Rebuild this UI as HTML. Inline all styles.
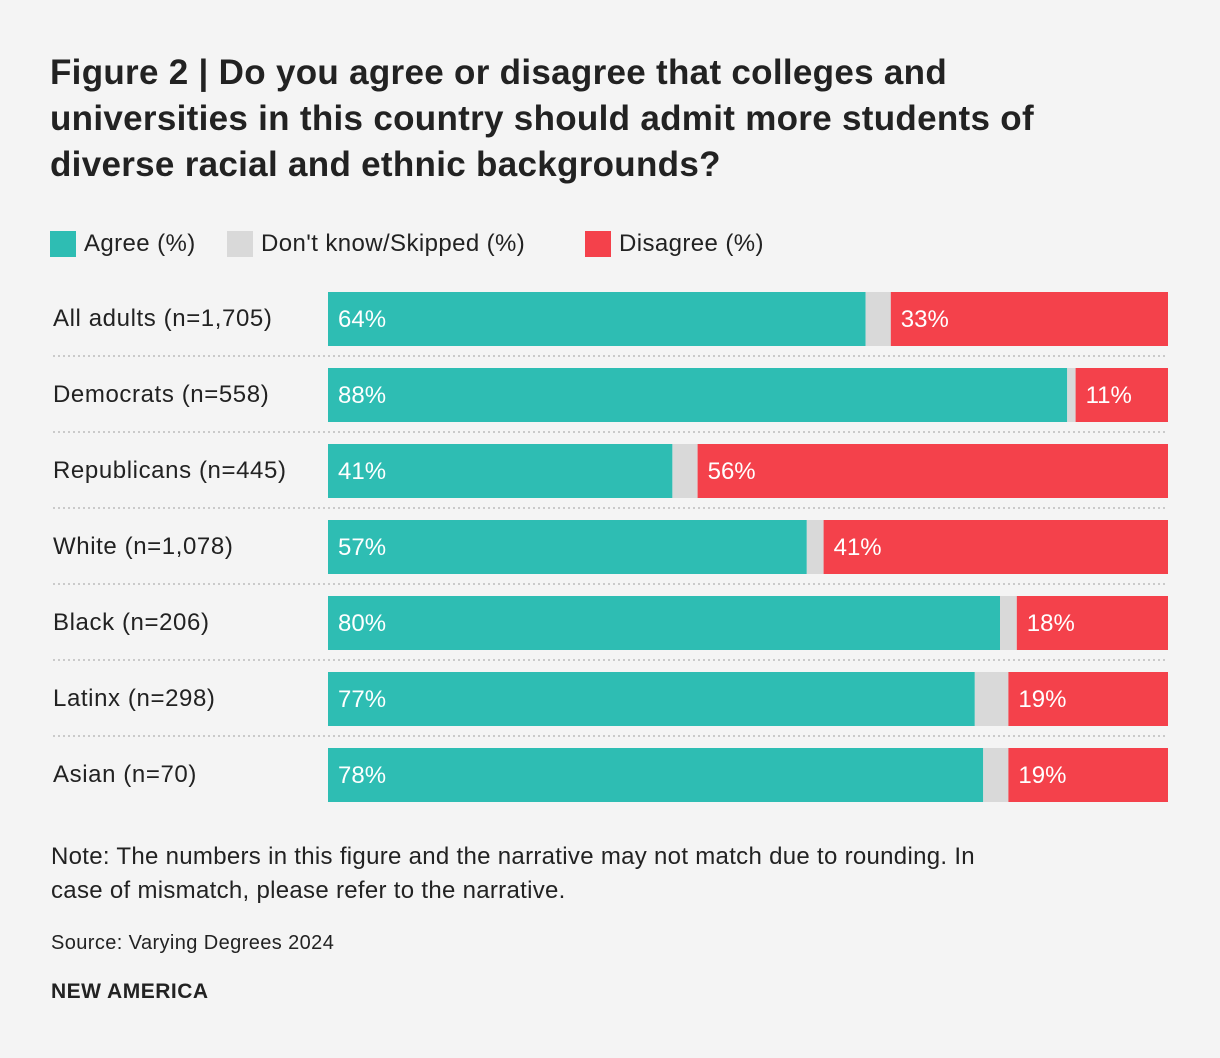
<!DOCTYPE html>
<html><head><meta charset="utf-8"><style>
body{margin:0;background:#f4f4f4;font-family:"Liberation Sans",sans-serif;color:#222;}
#wrap{position:relative;width:1220px;height:1058px;overflow:hidden;}
h1{position:absolute;left:50px;top:50px;margin:0;font-size:35px;line-height:46px;font-weight:bold;width:1150px;color:#222;white-space:nowrap;letter-spacing:0.3px;}
.leg{position:absolute;top:230px;font-size:24px;display:flex;align-items:center;letter-spacing:0.4px;}
.sw{width:26px;height:26px;margin-right:8px;display:inline-block;}
.note{position:absolute;left:51px;top:840px;font-size:24px;line-height:34px;width:1150px;white-space:nowrap;letter-spacing:0.3px;}
.src{position:absolute;left:51px;top:932px;font-size:20px;letter-spacing:0.4px;}
.brand{position:absolute;left:51px;top:980px;font-size:21px;font-weight:bold;letter-spacing:0.5px;}
</style></head><body>
<div id="wrap">
<h1>Figure 2 | Do you agree or disagree that colleges and<br>universities in this country should admit more students of<br>diverse racial and ethnic backgrounds?</h1>
<div class="leg" style="left:50px"><span class="sw" style="background:#2ebdb3"></span>Agree (%)</div>
<div class="leg" style="left:227px"><span class="sw" style="background:#d9d9d9"></span>Don't know/Skipped (%)</div>
<div class="leg" style="left:585px"><span class="sw" style="background:#f4414b"></span>Disagree (%)</div>
<svg id="chart" width="1220" height="1058" style="position:absolute;left:0;top:0"></svg>
<div class="note">Note: The numbers in this figure and the narrative may not match due to rounding. In<br>case of mismatch, please refer to the narrative.</div>
<div class="src">Source: Varying Degrees 2024</div>
<div class="brand">NEW AMERICA</div>
</div>
<script>
const categories=["All adults (n=1,705)","Democrats (n=558)","Republicans (n=445)","White (n=1,078)","Black (n=206)","Latinx (n=298)","Asian (n=70)"];
const agree=[64,88,41,57,80,77,78];
const dontKnow=[3,1,3,2,2,4,3];
const disagree=[33,11,56,41,18,19,19];
const NS="http://www.w3.org/2000/svg";
const svg=document.getElementById('chart');
const x0=328,plotW=840,rowTop=292,rowStep=76,barH=54;
const xs=v=>v/100*plotW;
const yr=i=>rowTop+i*rowStep;
function mk(t,a){const e=document.createElementNS(NS,t);for(const k in a)e.setAttribute(k,a[k]);svg.appendChild(e);return e;}
categories.forEach((c,i)=>{
  const y=yr(i);
  const tot=agree[i]+dontKnow[i]+disagree[i];
  const sc=v=>xs(v*100/tot);
  const lab=mk('text',{x:53,y:y+barH/2+7,'font-size':24,fill:'#222','font-family':'Liberation Sans, sans-serif','letter-spacing':0.6});
  lab.textContent=c;
  
  
  if(i>0){const ln=mk('line',{x1:53,x2:1168,y1:y-12,y2:y-12,stroke:'#bbb','stroke-width':1.5,'stroke-dasharray':'2,3'});
    
    }
  let cx=x0;
  const segs=[[agree[i],'#2ebdb3','bar-agree',true],[dontKnow[i],'#d9d9d9','bar-dont-know',false],[disagree[i],'#f4414b','bar-disagree',true]];
  segs.forEach(s=>{
    const w=sc(s[0]);
    const r=mk('rect',{x:cx,y:y,width:w,height:barH,fill:s[1]});
    
    
    if(s[3]){const t=mk('text',{x:cx+10,y:y+barH/2+8,'font-size':24,fill:'#fff','font-family':'Liberation Sans, sans-serif'});
      t.textContent=s[0]+'%';
      
      }
    cx+=w;
  });
});
</script>
</body></html>
